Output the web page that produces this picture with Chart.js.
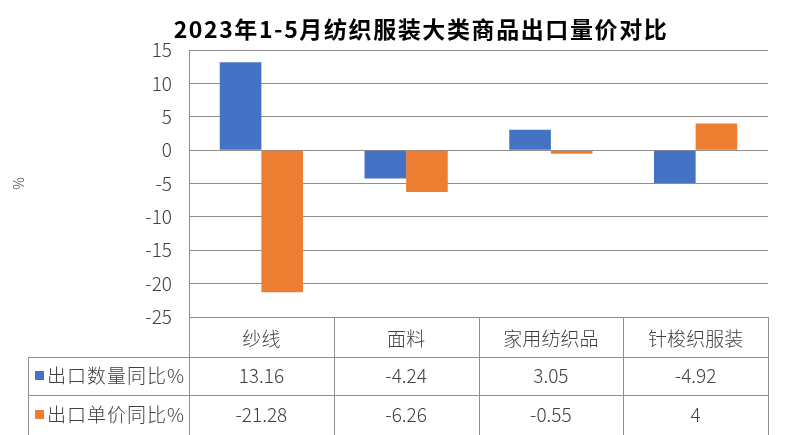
<!DOCTYPE html>
<html>
<head>
<meta charset="utf-8">
<script src="https://cdn.jsdelivr.net/npm/chart.js@4"></script>
<style>
  body { margin: 0; background: #fff; }
  #wrap { width: 787px; height: 435px; }
</style>
</head>
<body>
<div id="wrap"><canvas id="exportChart" width="787" height="435"></canvas></div>
<script>
const chartTitle = '2023年1-5月纺织服装大类商品出口量价对比';
const categories = ['纱线', '面料', '家用纺织品', '针梭织服装'];
const seriesNames = ['出口数量同比%', '出口单价同比%'];
const qtyYoY = [13.16, -4.24, 3.05, -4.92];
const priceYoY = [-21.28, -6.26, -0.55, 4];
const yMin = -25, yMax = 15, yStep = 5;

const colors = ['#4472C4', '#ED7D31'];
const lineColor = '#8f8f8f';
const textColor = '#404040';
const cjkFont = "'Noto Sans CJK SC', 'Noto Sans', sans-serif";

// titulo y tabla de datos dibujados a mano
const tablePlugin = {
    id: 'dataTable',
    afterDraw(chart) {
        const ctx = chart.ctx;
        const area = chart.chartArea;
        const x = chart.scales.x;
        const colW = (area.right - area.left) / categories.length;
        const rowTops = [area.bottom, area.bottom + 40, area.bottom + 78];
        const bottom = chart.height;
        const leftEdge = 28;

        ctx.save();
        ctx.strokeStyle = lineColor;
        ctx.lineWidth = 1;
        ctx.beginPath();
        // horizontales
        ctx.moveTo(area.left, rowTops[0] + 0.5); ctx.lineTo(area.right, rowTops[0] + 0.5);
        ctx.moveTo(leftEdge, rowTops[1] + 0.5); ctx.lineTo(area.right, rowTops[1] + 0.5);
        ctx.moveTo(leftEdge, rowTops[2] + 0.5); ctx.lineTo(area.right, rowTops[2] + 0.5);
        // verticales
        ctx.moveTo(leftEdge + 0.5, rowTops[1]); ctx.lineTo(leftEdge + 0.5, bottom);
        for (let i = 0; i <= categories.length; i++) {
            const px = Math.round(area.left + i * colW) + 0.5;
            ctx.moveTo(px, area.bottom); ctx.lineTo(px, bottom);
        }
        ctx.stroke();

        ctx.fillStyle = textColor;
        ctx.textBaseline = 'middle';
        ctx.font = '300 19px ' + cjkFont;
        const rows = [qtyYoY, priceYoY];
        rows.forEach((vals, r) => {
            const cy = (rowTops[r + 1] + (r === 0 ? rowTops[2] : rowTops[2] + 40)) / 2;
            ctx.textAlign = 'center';
            vals.forEach((v, i) => {
                ctx.fillText(String(v), x.getPixelForValue(i), cy);
            });
            ctx.fillStyle = colors[r];
            ctx.fillRect(35, cy - 5, 9, 9);
            ctx.fillStyle = textColor;
            ctx.textAlign = 'left';
            ctx.letterSpacing = '1px';
            ctx.fillText(seriesNames[r], 47, cy);
            ctx.letterSpacing = '0px';
        });

        ctx.fillStyle = '#000';
        ctx.font = 'bold 23px ' + cjkFont;
        ctx.textAlign = 'center';
        ctx.letterSpacing = '1.6px';
        ctx.fillText(chartTitle, 421, 29);
        ctx.restore();
    }
};

new Chart(document.getElementById('exportChart'), {
    type: 'bar',
    data: {
        labels: categories,
        datasets: [
            { label: seriesNames[0], data: qtyYoY, backgroundColor: colors[0] },
            { label: seriesNames[1], data: priceYoY, backgroundColor: colors[1] }
        ]
    },
    options: {
        responsive: false,
        animation: false,
        layout: { padding: { top: 50, right: 19, left: 0, bottom: 0 } },
        datasets: { bar: { categoryPercentage: 0.575, barPercentage: 1 } },
        plugins: {
            legend: { display: false },
            title: { display: false },
            tooltip: { enabled: false }
        },
        scales: {
            x: {
                grid: { display: false },
                border: { display: false },
                ticks: {
                    color: textColor,
                    padding: 2,
                    maxRotation: 0,
                    font: { family: cjkFont, size: 19, weight: 300 }
                },
                afterFit(scale) { scale.height = 118; }
            },
            y: {
                min: yMin,
                max: yMax,
                ticks: {
                    stepSize: yStep,
                    color: textColor,
                    padding: 17,
                    font: { family: cjkFont, size: 19, weight: 300 }
                },
                grid: { color: lineColor, drawTicks: false },
                border: { color: lineColor },
                title: {
                    display: true,
                    text: '%',
                    color: textColor,
                    padding: { top: 10, bottom: 0 },
                    font: { family: cjkFont, size: 14, weight: 300 }
                },
                afterFit(scale) { scale.width = 189; }
            }
        }
    },
    plugins: [tablePlugin]
});
</script>
</body>
</html>
